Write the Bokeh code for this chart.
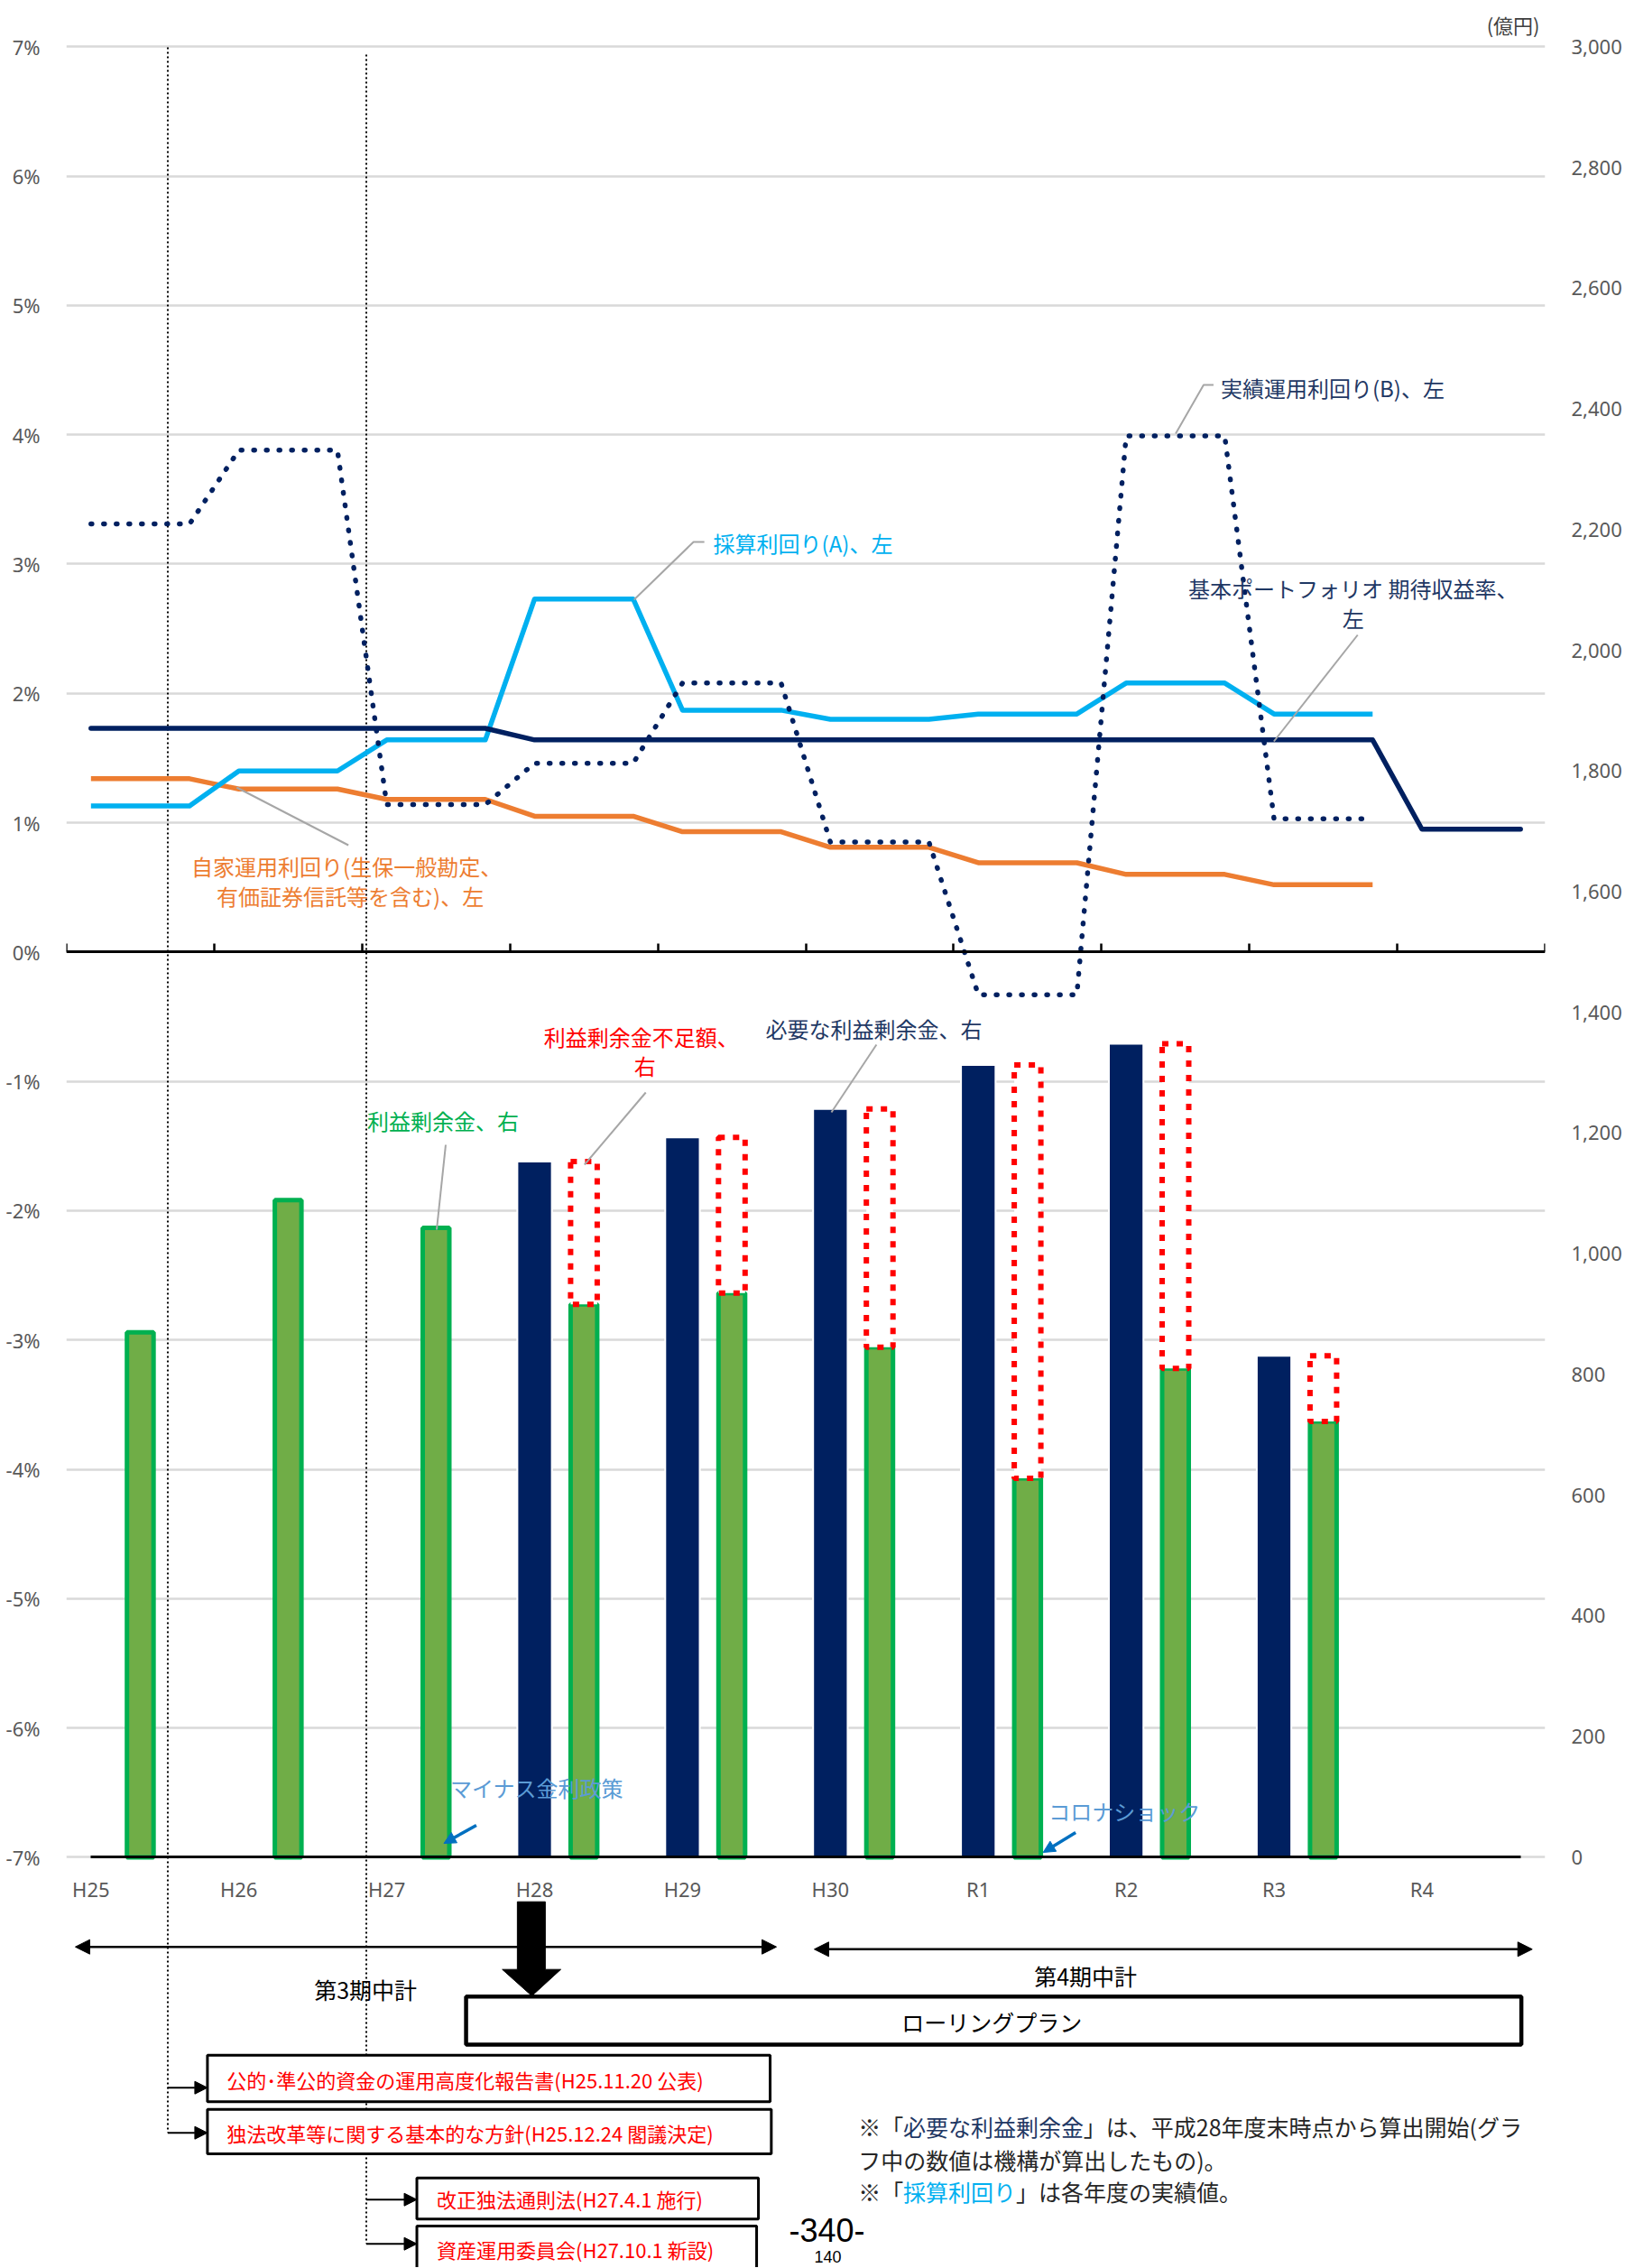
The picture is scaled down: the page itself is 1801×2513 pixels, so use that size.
import math
from bokeh.plotting import figure
from bokeh.models import (Range1d, LinearAxis, FixedTicker, NumeralTickFormatter,
                          ColumnDataSource, Arrow, NormalHead, Label)
from bokeh.core.properties import value
from bokeh.embed import file_html
from bokeh.resources import INLINE

NaN = float("nan")

# ---------------- data ----------------
years = ["H25", "H26", "H27", "H28", "H29", "H30", "R1", "R2", "R3", "R4"]
actual_yield_B = [3.31, 3.88, 1.14, 1.46, 2.08, 0.85, -0.33, 3.99, 1.03, NaN]      # 実績運用利回り(B) %
assumed_yield_A = [1.13, 1.40, 1.64, 2.73, 1.87, 1.80, 1.84, 2.08, 1.84, NaN]     # 採算利回り(A) %
policy_expected = [1.73, 1.73, 1.73, 1.64, 1.64, 1.64, 1.64, 1.64, 1.64, 0.95]    # 基本ポートフォリオ期待収益率 %
own_yield = [1.34, 1.26, 1.18, 1.05, 0.93, 0.81, 0.69, 0.60, 0.52, NaN]           # 自家運用利回り %
required_surplus = [NaN, NaN, NaN, 1153, 1193, 1240, 1313, 1348, 831, NaN]        # 必要な利益剰余金 億円
retained_surplus = [870, 1089, 1043, 916, 935, 845, 628, 810, 722, NaN]           # 利益剰余金 億円
pct_ticks = list(range(-7, 8))
oku_ticks = list(range(0, 3001, 200))

# ---------------- style / layout ----------------
JP = "Noto Sans CJK JP"
NAVY = "#002060"
NAVY_TXT = "#1F3864"
LBLUE = "#00B0F0"
ORANGE = "#ED7D31"
GREEN_LINE = "#00B050"
GREEN_FILL = "#70AD47"
RED = "#FF0000"
GRID = "#D9D9D9"
TICK = "#595959"
LEADER = "#A6A6A6"
ABLUE = "#0070C0"
TBLUE = "#5B9BD5"

SUB = 3                       # three sub-slots per fiscal year on the category axis
W, H = 1800, 2512
PAGE = 0
FRAME_L_PAGE, FRAME_R_PAGE = 73, 1714
ML, MR = FRAME_L_PAGE - PAGE, W - (FRAME_R_PAGE - PAGE)
Y7_PAGE, YM7_PAGE = 51.3, 2057.4
ppp = (YM7_PAGE - Y7_PAGE) / 14.0
y_end = 7 + (Y7_PAGE - PAGE) / ppp
y_start = -7 - (PAGE + H - YM7_PAGE) / ppp
to_right = lambda v: (v + 7) * 3000.0 / 14.0

p = figure(width=W, height=H, output_backend="svg", toolbar_location=None,
           x_range=Range1d(-0.5, SUB * len(years) - 0.5),
           y_range=Range1d(y_start, y_end),
           x_axis_location=None, y_axis_location="left",
           min_border_left=ML, min_border_right=MR, min_border_top=0, min_border_bottom=0)
p.outline_line_color = None
p.background_fill_color = "white"
p.border_fill_color = "white"
p.extra_y_ranges = {"right": Range1d(to_right(y_start), to_right(y_end)),
                    "px": Range1d(PAGE + H, PAGE)}
p.extra_x_ranges = {"px": Range1d(FRAME_L_PAGE, FRAME_R_PAGE)}

# left axis (%)
pct_ticker = FixedTicker(ticks=pct_ticks)
ya = p.yaxis[0]
ya.ticker = pct_ticker
ya.major_label_overrides = {t: f"{t}%" for t in pct_ticks}
ya.axis_line_color = None
ya.major_tick_line_color = None
ya.minor_tick_line_color = None
ya.major_label_standoff = 23
ya.major_label_text_font = "Noto Sans"
ya.major_label_text_font_size = "22px"
ya.major_label_text_color = TICK
for g in p.ygrid:
    g.ticker = pct_ticker
    g.grid_line_color = GRID
    g.grid_line_width = 2.5
for g in p.xgrid:
    g.visible = False

# right axis (億円)
ra = LinearAxis(y_range_name="right", ticker=FixedTicker(ticks=oku_ticks),
                formatter=NumeralTickFormatter(format="0,0"),
                axis_line_color=None, major_tick_line_color=None, minor_tick_line_color=None,
                major_label_standoff=23, major_label_text_font="Noto Sans",
                major_label_text_font_size="22px", major_label_text_color=TICK)
p.add_layout(ra, "right")

# category axis at -7% line
cat_ticks = [SUB * i for i in range(len(years))]
ca = LinearAxis(fixed_location=-7, ticker=FixedTicker(ticks=cat_ticks),
                major_label_overrides={SUB * i: y for i, y in enumerate(years)},
                bounds=(0, SUB * len(years) - 1),
                axis_line_color="black", axis_line_width=3,
                major_tick_in=0, major_tick_out=0, minor_tick_line_color=None,
                major_label_standoff=20, major_label_text_font="Noto Sans",
                major_label_text_font_size="22px", major_label_text_color=TICK)
p.add_layout(ca, "below")

# 0% axis line with year boundaries
za = LinearAxis(fixed_location=0, ticker=FixedTicker(ticks=[SUB * i - 0.5 for i in range(len(years) + 1)]),
                bounds=(-0.5, SUB * len(years) - 0.5),
                axis_line_color="black", axis_line_width=3,
                major_tick_in=9, major_tick_out=0, major_tick_line_width=2.5,
                major_tick_line_color="black", minor_tick_line_color=None,
                major_label_text_color=None)
p.add_layout(za, "below")

# ---------------- helpers ----------------
def ptext(x, y, s, color, size, align="left", font=JP):
    p.text(x=[x], y=[y], text=[s], x_range_name="px", y_range_name="px",
           text_color=color, text_font_size=f"{size}px", text_align=align,
           text_baseline="middle", text_font=value(font))

def pline(xs, ys, color, width=2, dash="solid"):
    p.line(xs, ys, x_range_name="px", y_range_name="px", line_color=color,
           line_width=width, line_dash=dash)

def parrow(x0, y0, x1, y1, color="black", width=2, size=14, both=False):
    head = lambda: NormalHead(size=size, fill_color=color, line_color=color, line_width=1)
    p.add_layout(Arrow(x_start=x0, y_start=y0, x_end=x1, y_end=y1,
                       x_range_name="px", y_range_name="px",
                       line_color=color, line_width=width,
                       end=head(), start=head() if both else None))

def pbox(l, r, t, b, lw=3):
    p.quad(left=[l], right=[r], top=[t], bottom=[b], x_range_name="px", y_range_name="px",
           fill_color="white", line_color="black", line_width=lw)

def em_width(s):
    w = 0.0
    for ch in s:
        if ord(ch) > 0x2000:
            w += 1.0
        elif ch.isdigit():
            w += 0.55
        elif ch in "()":
            w += 0.32
        elif ch in ". ":
            w += 0.27
        else:
            w += 0.6
    return w

def multicolor(x, y, pieces, size):
    for s, c in pieces:
        ptext(x, y, s, c, size)
        x += em_width(s) * size

# ---------------- event dotted lines (behind everything) ----------------
EV1_X, EV2_X = 185.6, 405.9
pline([EV1_X, EV1_X], [52, 2362.7], "black", 2, "2 3")
pline([EV2_X, EV2_X], [60, 2485.7], "black", 2, "2 3")

# ---------------- bars (right axis) ----------------
ri = [i for i, v in enumerate(required_surplus) if not math.isnan(v)]
ai = [i for i, v in enumerate(retained_surplus) if not math.isnan(v)]
gi = [i for i in ri if i in ai]

navy_src = ColumnDataSource(dict(x=[SUB * i for i in ri], top=[required_surplus[i] for i in ri]))
green_src = ColumnDataSource(dict(x=[SUB * i + 1 for i in ai], top=[retained_surplus[i] for i in ai]))
gap_src = ColumnDataSource(dict(x=[SUB * i + 1 for i in gi],
                                bottom=[retained_surplus[i] for i in gi],
                                top=[required_surplus[i] for i in gi]))

p.vbar(x="x", top="top", bottom=0, width=0.70, source=navy_src, y_range_name="right",
       fill_color=NAVY, line_color="white", line_width=2)
p.vbar(x="x", top="top", bottom=0, width=0.54, source=green_src, y_range_name="right",
       fill_color=GREEN_FILL, line_color=GREEN_LINE, line_width=5)
p.vbar(x="x", top="top", bottom="bottom", width=0.54, source=gap_src, y_range_name="right",
       fill_color="white", line_color=RED, line_width=6, line_dash="7 9")

# ---------------- lines (left axis) ----------------
line_x = [SUB * i + k for i in range(len(years)) for k in range(SUB)]
stepped = lambda vals: [v for v in vals for _ in range(SUB)]

p.line(line_x, stepped(own_yield), line_color=ORANGE, line_width=5.5, line_join="round")
p.line(line_x, stepped(assumed_yield_A), line_color=LBLUE, line_width=5.5, line_join="round")
p.line(line_x, stepped(policy_expected), line_color=NAVY, line_width=5.5, line_join="round",
       line_cap="round")
p.line(line_x, stepped(actual_yield_B), line_color=NAVY, line_width=5.5, line_dash="1 13",
       line_cap="round", line_join="round")

# ---------------- chart annotations ----------------
pline([1346, 1335, 1304], [426, 426, 480], LEADER)
ptext(1354, 429, "実績運用利回り(B)、左", NAVY_TXT, 24)

pline([781, 769, 703], [600, 600, 664], LEADER)
ptext(791, 601, "採算利回り(A)、左", LBLUE, 24)

pline([1506, 1413], [703, 821], LEADER)
ptext(1501, 651, "基本ポートフォリオ 期待収益率、", NAVY_TXT, 24, "center")
ptext(1501, 684, "左", NAVY_TXT, 24, "center")

pline([386, 262], [936, 872], LEADER)
ptext(384, 959, "自家運用利回り(生保一般勘定、", ORANGE, 24, "center")
ptext(388, 992, "有価証券信託等を含む)、左", ORANGE, 24, "center")

pline([716, 648], [1210, 1290], LEADER)
ptext(711, 1148, "利益剰余金不足額、", RED, 24, "center")
ptext(715, 1180, "右", RED, 24, "center")

pline([972, 922], [1157, 1232], LEADER)
ptext(849, 1139, "必要な利益剰余金、右", NAVY_TXT, 24)

pline([494, 484], [1268, 1362], LEADER)
ptext(407, 1241, "利益剰余金、右", GREEN_LINE, 24)

ptext(499, 1980, "マイナス金利政策", TBLUE, 24)
parrow(528, 2022, 492, 2042, ABLUE, 3.5, 13)
ptext(1163, 2006, "コロナショック", TBLUE, 24)
parrow(1193, 2030, 1157, 2052, ABLUE, 3.5, 13)

ptext(1708, 26, "(億円)", "#404040", 22, "right")

# ---------------- lower diagram ----------------
parrow(83, 2156.7, 861, 2156.7, "black", 2.5, 16, both=True)
ptext(405, 2203, "第3期中計", "black", 25, "center")
parrow(903, 2159.3, 1699.7, 2159.3, "black", 2.5, 16, both=True)
ptext(1204, 2188, "第4期中計", "black", 25, "center")

pbox(516.6, 1687.6, 2211.7, 2265, 4.5)
ptext(1100, 2239, "ローリングプラン", "black", 25, "center")

p.patch([573.5, 604.5, 604.5, 621.7, 589.6, 556.8, 573.5, 573.5],
        [2106.7, 2106.7, 2181.7, 2181.7, 2211, 2181.7, 2181.7, 2106.7],
        x_range_name="px", y_range_name="px", fill_color="black", line_color="black")

pbox(229.6, 854, 2276.7, 2328.3)
ptext(251, 2303, "公的･準公的資金の運用高度化報告書(H25.11.20 公表)", RED, 22)
pbox(229.6, 855.3, 2336.7, 2386)
ptext(251, 2362, "独法改革等に関する基本的な方針(H25.12.24 閣議決定)", RED, 22)
pbox(462, 841, 2412.7, 2458.3)
ptext(484, 2435, "改正独法通則法(H27.4.1 施行)", RED, 22)
pbox(462, 839, 2466, 2540)
ptext(484, 2491, "資産運用委員会(H27.10.1 新設)", RED, 22)

parrow(EV1_X, 2312.7, 229.6, 2312.7, "black", 2, 14)
parrow(EV1_X, 2362.7, 229.6, 2362.7, "black", 2, 14)
parrow(EV2_X, 2436.7, 462, 2436.7, "black", 2, 14)
parrow(EV2_X, 2485.7, 462, 2485.7, "black", 2, 14)

TXT = "#262626"
multicolor(951.7, 2355, [("※「", TXT), ("必要な利益剰余金", NAVY_TXT),
                          ("」は、平成28年度末時点から算出開始(グラ", TXT)], 25)
multicolor(951.7, 2392, [("フ中の数値は機構が算出したもの)。", TXT)], 25)
multicolor(951.7, 2427, [("※「", TXT), ("採算利回り", LBLUE), ("」は各年度の実績値。", TXT)], 25)

ptext(917, 2470, "-340-", "black", 36, "center", "Liberation Sans")
ptext(918, 2500, "140", "black", 18, "center", "Liberation Sans")

open("out.html", "w").write(file_html(p, INLINE))
